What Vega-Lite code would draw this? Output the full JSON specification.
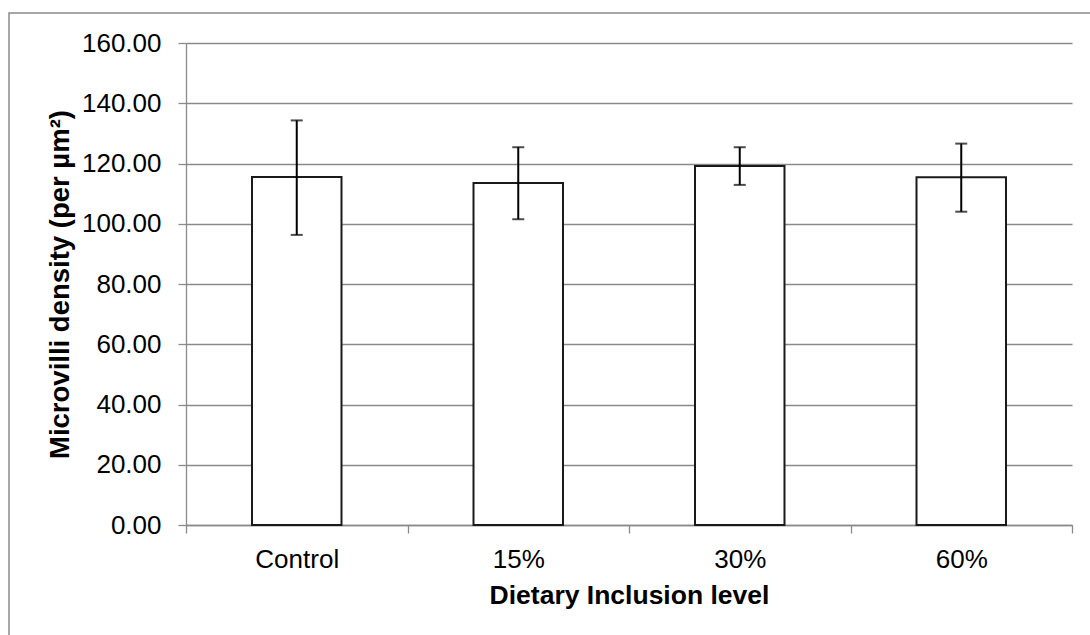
{
  "$schema": "https://vega.github.io/schema/vega-lite/v6.json",
  "width": 1084,
  "height": 625,
  "autosize": {"type": "none"},
  "padding": {"left": 9, "top": 13, "right": -3, "bottom": -3},
  "background": "white",
  "config": {
    "view": {"stroke": "#8a8a8a", "strokeWidth": 1.5, "fill": "white"},
    "font": "Liberation Sans"
  },
  "data": {
    "values": [
      {"level": "Control", "mean": 115.5, "low": 96.3, "high": 134.3},
      {"level": "15%", "mean": 113.5, "low": 101.5, "high": 125.4},
      {"level": "30%", "mean": 119.2, "low": 112.9, "high": 125.4},
      {"level": "60%", "mean": 115.4, "low": 104.0, "high": 126.6}
    ]
  },
  "encoding": {
    "x": {
      "field": "level",
      "type": "nominal",
      "sort": null,
      "title": "Dietary Inclusion level",
      "scale": {"range": [177, 1063], "paddingInner": 0, "paddingOuter": 0},
      "axis": {
        "offset": -113,
        "tickBand": "extent",
        "labelAngle": 0,
        "grid": false,
        "domainColor": "#8a8a8a",
        "domainWidth": 1.3,
        "tickColor": "#8a8a8a",
        "tickWidth": 1.3,
        "tickSize": 8,
        "labelFont": "Liberation Sans",
        "labelFontSize": 26,
        "labelColor": "black",
        "labelPadding": 13,
        "titleFont": "Liberation Sans",
        "titleFontSize": 26.5,
        "titleFontWeight": "bold",
        "titleColor": "black",
        "titleY": 78,
        "titleBaseline": "alphabetic"
      }
    }
  },
  "layer": [
    {
      "mark": {"type": "bar", "fill": "white", "stroke": "#1a1a1a", "strokeWidth": 2, "width": {"band": 0.404}},
      "encoding": {
        "y": {
          "field": "mean",
          "type": "quantitative",
          "title": "Microvilli density (per µm²)",
          "scale": {"domain": [0, 160], "range": [512, 30], "nice": false, "zero": true},
          "axis": {
            "values": [0, 20, 40, 60, 80, 100, 120, 140, 160],
            "format": ".2f",
            "offset": -177,
            "grid": true,
            "gridColor": "#8a8a8a",
            "gridWidth": 1.3,
            "domainColor": "#8a8a8a",
            "domainWidth": 1.3,
            "tickColor": "#8a8a8a",
            "tickWidth": 1.3,
            "tickSize": 8,
            "labelFont": "Liberation Sans",
            "labelFontSize": 26,
            "labelColor": "black",
            "labelPadding": 17,
            "titleFont": "Liberation Sans",
            "titleFontSize": 27.5,
            "titleFontWeight": "bold",
            "titleColor": "black",
            "titleX": -118,
            "titleAngle": -90,
            "titleBaseline": "alphabetic"
          }
        }
      }
    },
    {
      "mark": {"type": "rule", "color": "black", "strokeWidth": 2},
      "encoding": {
        "y": {"field": "low", "type": "quantitative", "title": "Microvilli density (per µm²)"},
        "y2": {"field": "high"}
      }
    },
    {
      "mark": {"type": "tick", "color": "black", "thickness": 2, "size": 12, "orient": "horizontal"},
      "encoding": {
        "y": {"field": "low", "type": "quantitative", "title": "Microvilli density (per µm²)"}
      }
    },
    {
      "mark": {"type": "tick", "color": "black", "thickness": 2, "size": 12, "orient": "horizontal"},
      "encoding": {
        "y": {"field": "high", "type": "quantitative", "title": "Microvilli density (per µm²)"}
      }
    }
  ]
}
